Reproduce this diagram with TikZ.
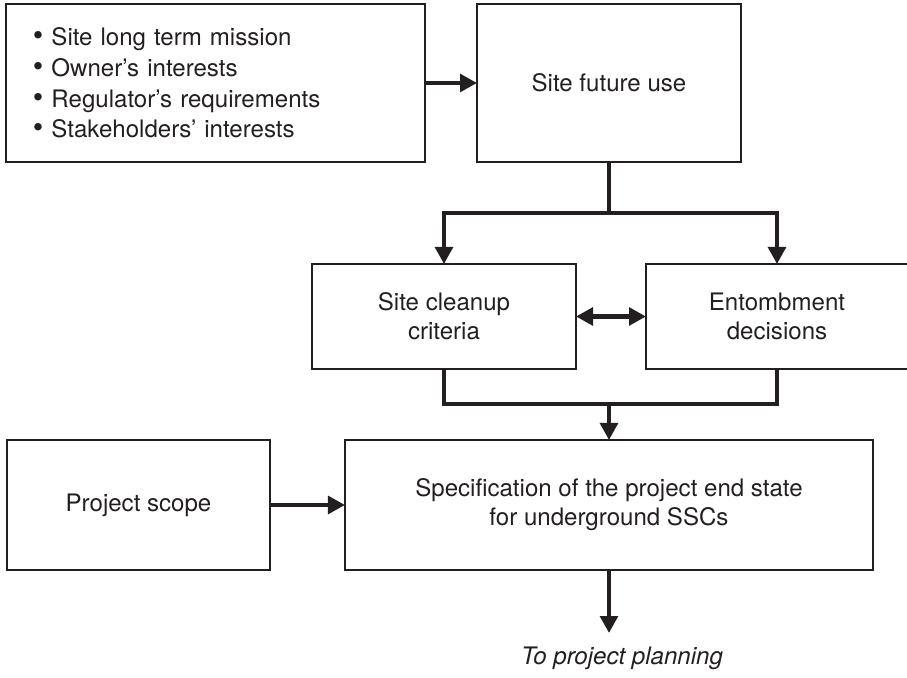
\documentclass[tikz,border=0pt]{standalone}
\usepackage{fontspec}
\setmainfont{TeX Gyre Heros}
\usepackage{xcolor}
\usepackage{tikz}
\usetikzlibrary{arrows.meta}

\definecolor{ink}{HTML}{231F20}
\newcommand{\blob}{{\fontsize{17}{17}\selectfont\textbullet}\ }

\begin{document}
\begin{tikzpicture}[x=0.2mm,y=-0.2mm,
    box/.style={draw=ink,line width=0.6pt,inner sep=0pt,outer sep=0pt,
      text=ink,align=center,font=\fontsize{13.7}{16.6}\selectfont},
    link/.style={draw=ink,line width=2.4pt},
    tip/.style={-{Triangle[length=3.4mm,width=3.5mm]}}]
  \useasboundingbox (0,0) rectangle (907,678);
  \node[box,align=left,text width=73mm,inner xsep=5.4mm,minimum height=31.6mm,
        font=\fontsize{13.7}{17.4}\selectfont] (goals) at (215.5,83)
    {\blob Site long term mission\\
     \blob Owner’s interests\\
     \blob Regulator’s requirements\\
     \blob Stakeholders’ interests};
  \node[box,minimum width=52.8mm,minimum height=31.6mm] (futureuse) at (609,83)
    {Site future use};
  \node[box,minimum width=52.8mm,minimum height=21mm] (cleanup) at (444,316.5)
    {Site cleanup\\criteria};
  \node[box,minimum width=52.4mm,minimum height=21mm] (entomb) at (777,316.5)
    {Entombment\\decisions};
  \node[box,minimum width=52.6mm,minimum height=26mm] (scope) at (138.5,505)
    {Project scope};
  \node[box,minimum width=105.6mm,minimum height=26mm] (spec) at (609,505)
    {Specification of the project end state\\for underground SSCs};
  \node[text=ink,font=\fontsize{13.7}{16.6}\selectfont\itshape] (planning) at (622,658)
    {To project planning};
  \coordinate (split) at (609,213);
  \coordinate (join) at (609,404);
  \coordinate (out) at (609,633);
  % links
  \draw[link,tip] (goals) -- (futureuse);
  \draw[link] (futureuse.south) -- (split);
  \draw[link,tip] (split) -| (cleanup.north);
  \draw[link,tip] (split) -| (entomb.north);
  \draw[link,{Triangle[length=3.4mm,width=3.5mm]}-{Triangle[length=3.4mm,width=3.5mm]}]
    (cleanup) -- (entomb);
  \draw[link] (cleanup.south) |- (join) -| (entomb.south);
  \draw[link,tip] (join) -- (spec.north);
  \draw[link,tip] (scope) -- (spec);
  \draw[link,tip] (spec.south) -- (out);
\end{tikzpicture}
\end{document}
